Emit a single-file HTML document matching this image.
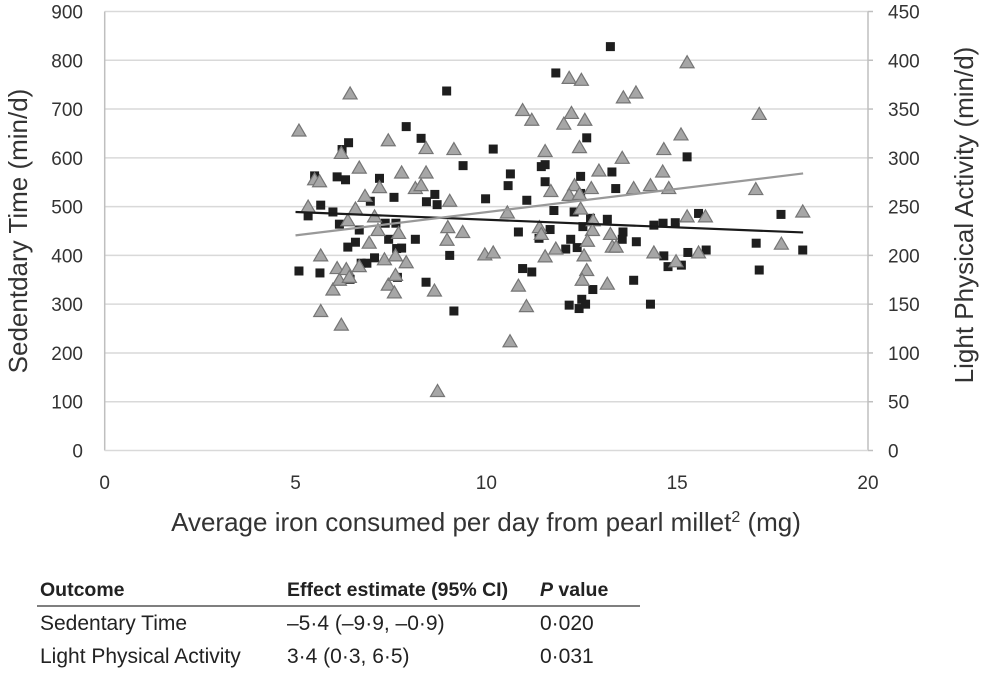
<!DOCTYPE html>
<html><head><meta charset="utf-8"><style>
body{margin:0;background:#fff;font-family:"Liberation Sans",sans-serif;}
svg text{font-family:"Liberation Sans",sans-serif;}
</style></head><body>
<svg id="chart" width="981" height="668" xmlns="http://www.w3.org/2000/svg">
<g id="grid"></g>
<g id="axes"></g>
<g id="marks"></g>
<text transform="translate(27,231) rotate(-90)" text-anchor="middle" font-size="26" fill="#333">Sedentdary Time (min/d)</text>
<text transform="translate(973,215) rotate(-90)" text-anchor="middle" font-size="26" fill="#333">Light Physical Activity (min/d)</text>
<text x="486" y="531" text-anchor="middle" font-size="26" fill="#333">Average iron consumed per day from pearl millet<tspan font-size="16" dy="-9">2</tspan><tspan dy="9"> (mg)</tspan></text>
<g font-size="21" fill="#222">
<text x="40" y="596" font-weight="bold" font-size="19.5">Outcome</text>
<text x="287" y="596" font-weight="bold" font-size="19.5">Effect estimate (95% CI)</text>
<text x="540" y="596" font-weight="bold" font-size="19.5"><tspan font-style="italic">P</tspan> value</text>
<line x1="37" y1="606" x2="640" y2="606" stroke="#333" stroke-width="1.2"/>
<text x="40" y="630">Sedentary Time</text>
<text x="287" y="630">–5·4 (–9·9, –0·9)</text>
<text x="540" y="630">0·020</text>
<text x="40" y="663">Light Physical Activity</text>
<text x="287" y="663">3·4 (0·3, 6·5)</text>
<text x="540" y="663">0·031</text>
</g>
</svg>
<script>
const xTicks=[0,5,10,15,20];
const yLeftTicks=[0,100,200,300,400,500,600,700,800,900];
const yRightTicks=[0,50,100,150,200,250,300,350,400,450];
const sedX=[5.09,5.64,5.33,5.66,5.50,5.98,6.09,6.31,6.39,6.22,6.15,6.67,6.37,6.57,6.43,6.72,6.87,7.07,6.96,7.20,7.58,7.90,8.29,8.65,8.43,8.71,7.44,7.63,7.35,7.65,7.78,7.67,8.14,8.96,9.39,9.04,9.15,8.42,9.98,10.18,13.25,11.82,12.63,15.26,10.63,10.57,11.44,11.54,11.54,12.47,13.29,13.39,11.06,11.77,12.30,12.47,12.53,12.73,13.17,10.84,11.38,11.67,12.21,12.08,12.38,13.58,13.56,13.93,14.39,14.63,14.95,15.56,17.72,14.65,14.76,15.11,15.28,15.76,17.07,18.29,17.15,10.95,11.19,12.79,13.86,12.17,12.50,12.43,12.60,14.30];
const sedY=[368,364,481,503,563,489,561,555,631,617,464,452,417,427,351,384,384,395,511,558,519,664,640,525,510,504,433,466,466,414,415,355,433,737,584,400,286,345,516,618,828,774,641,602,567,543,582,586,551,562,571,537,513,492,489,527,459,476,474,448,435,453,433,413,416,448,433,428,462,466,467,486,484,399,377,380,406,411,425,411,370,373,366,330,349,298,310,291,300,300];
const lpaX=[5.09,6.43,5.33,5.50,5.63,5.66,5.66,6.20,6.20,5.98,6.09,6.15,6.33,6.37,6.41,6.57,6.67,6.67,6.82,6.93,7.07,7.16,7.20,7.33,7.43,7.43,7.59,7.62,7.62,7.70,7.78,7.90,8.14,8.29,8.42,8.42,8.64,8.72,8.97,8.99,9.04,9.15,9.38,9.96,10.18,15.26,12.17,12.49,13.59,13.92,10.95,11.19,12.23,12.03,12.58,15.10,11.54,12.44,14.65,13.56,12.95,14.62,17.15,11.69,12.31,12.17,12.44,12.75,13.86,14.30,14.78,17.06,10.55,12.47,12.80,12.78,11.39,11.44,13.25,12.65,13.30,13.40,11.82,11.54,12.56,14.39,14.97,15.26,15.74,15.56,17.73,18.29,12.63,12.51,13.17,10.84,11.05,10.62];
const lpaY=[328,366,250,278,276,200,143,305,129,165,187,175,186,236,178,248,290,189,261,213,240,226,270,196,318,170,162,200,180,223,285,193,269,272,310,285,164,61,216,229,256,309,224,201,203,398,382,380,362,367,349,339,346,335,339,324,307,311,309,300,287,286,345,266,272,262,263,269,269,272,269,268,244,248,236,226,229,222,222,215,209,209,207,199,200,203,194,240,240,203,212,245,185,175,171,169,148,112];
const sedTrendX=[5,18.3];
const sedTrendY=[489,447];
const lpaTrendX=[5,18.3];
const lpaTrendY=[220.5,284];

const NS="http://www.w3.org/2000/svg";
const X0=104.7,X1=868,Y0=450.5,Y1=11.5;
function sx(v){return X0+(X1-X0)*v/20;}
function syL(v){return Y0-(Y0-Y1)*v/900;}
function syR(v){return Y0-(Y0-Y1)*v/450;}
function mk(tag,attrs,parent){const e=document.createElementNS(NS,tag);for(const k in attrs)e.setAttribute(k,attrs[k]);parent.appendChild(e);return e;}
const grid=document.getElementById('grid'),axes=document.getElementById('axes'),marks=document.getElementById('marks');
yLeftTicks.forEach((t,i)=>{
  const y=syL(t);
  if(t>0){const g=mk('line',{x1:X0,x2:X1,y1:y,y2:y,stroke:'#d9d9d9','stroke-width':1.5},grid);
  
  }
  const tl=mk('text',{x:83,y:y+7,'text-anchor':'end','font-size':19,fill:'#333'},axes);tl.textContent=t;
  
  
});
yRightTicks.forEach(t=>{
  const y=syR(t);
  const tm=mk('line',{x1:X1,x2:X1+5,y1:y,y2:y,stroke:'#bfbfbf','stroke-width':1.5},axes);
  
  
  const tl=mk('text',{x:888,y:y+7,'font-size':19,fill:'#333'},axes);tl.textContent=t;
  
  
});
xTicks.forEach(t=>{
  const tl=mk('text',{x:sx(t),y:489,'text-anchor':'middle','font-size':19,fill:'#333'},axes);tl.textContent=t;
  
  
});
const la=mk('line',{x1:X0,x2:X0,y1:Y1,y2:Y0,stroke:'#bfbfbf','stroke-width':1.5},axes);


const ra=mk('line',{x1:X1,x2:X1,y1:Y1,y2:Y0,stroke:'#bfbfbf','stroke-width':1.5},axes);


const xa=mk('line',{x1:X0,x2:X1,y1:Y0,y2:Y0,stroke:'#d9d9d9','stroke-width':1.5},axes);


sedX.forEach((x,i)=>{
  const r=mk('rect',{x:sx(x)-4.5,y:syL(sedY[i])-4.5,width:9,height:9,fill:'#1e1e1e'},marks);
  
  
});
lpaX.forEach((x,i)=>{
  const cx=sx(x),cy=syR(lpaY[i]);
  const p=mk('polygon',{points:`${cx},${cy-6.5} ${cx-7},${cy+5.5} ${cx+7},${cy+5.5}`,fill:'#a6a6a6',stroke:'#757575','stroke-width':1.2},marks);
  
  
});
const t1=mk('line',{x1:sx(sedTrendX[0]),y1:syL(sedTrendY[0]),x2:sx(sedTrendX[1]),y2:syL(sedTrendY[1]),stroke:'#1a1a1a','stroke-width':2.2},marks);


const t2=mk('line',{x1:sx(lpaTrendX[0]),y1:syR(lpaTrendY[0]),x2:sx(lpaTrendX[1]),y2:syR(lpaTrendY[1]),stroke:'#999','stroke-width':2.2},marks);


</script>
</body></html>
